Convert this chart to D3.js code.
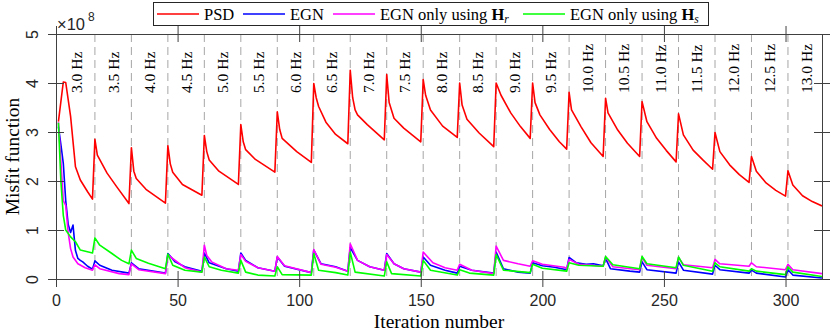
<!DOCTYPE html>
<html>
<head>
<meta charset="utf-8">
<script src="https://cdn.jsdelivr.net/npm/d3@7"></script>
<style>
body{margin:0;background:#fff}
svg{display:block}
.axis .tick text{font-family:"Liberation Sans",Arial,sans-serif;font-size:16px;fill:#262626}
.axis .tick line{stroke:#404040}
.axis path{display:none}
.freq{font-family:"Liberation Serif",serif;font-size:15.5px;fill:#000}
.legend text{font-family:"Liberation Serif",serif;font-size:16.5px;fill:#000}
.title{font-family:"Liberation Serif",serif;font-size:19.5px;fill:#000}
</style>
</head>
<body>
<svg id="misfitGraph"></svg>
<script>
// frequency bands (labels) and the iterations where a new band starts
var freqLabels = ["3.0 Hz","3.5 Hz","4.0 Hz","4.5 Hz","5.0 Hz","5.5 Hz","6.0 Hz","6.5 Hz","7.0 Hz","7.5 Hz",
    "8.0 Hz","8.5 Hz","9.0 Hz","9.5 Hz","10.0 Hz","10.5 Hz","11.0 Hz","11.5 Hz","12.0 Hz","12.5 Hz","13.0 Hz"]
var bandStarts = [1,16,31,46,61,76,91,106,121,136,151,166,181,196,211,226,241,256,271,286,301]
var lastIter = 316

var xTicks = [0,50,100,150,200,250,300]
var yTicks = [0,1,2,3,4,5]

// misfit values, in units of 1e8, as [iteration, value]
var psdPoints = [[1,3.21],[3,4.02],[4,4.01],[6,3.32],[8,2.29],[10,2.02],[13,1.78],[15,1.63],
    [16,2.85],[17,2.53],[21,2.16],[25,1.88],[30,1.54],
    [31,2.68],[32,2.2],[33,2.05],[37,1.83],[45,1.55],
    [46,2.72],[47,2.35],[48,2.18],[52,1.93],[60,1.71],
    [61,2.93],[62,2.6],[63,2.43],[67,2.2],[75,1.93],
    [76,3.15],[77,2.8],[78,2.64],[82,2.44],[90,2.18],
    [91,3.41],[92,3.05],[93,2.87],[99,2.6],[105,2.38],
    [106,3.99],[107,3.7],[108,3.52],[111,3.2],[115,2.95],[120,2.76],
    [121,4.26],[122,3.7],[123,3.45],[124,3.35],[128,3.15],[135,2.84],
    [136,4.17],[137,3.6],[139,3.28],[143,3.08],[150,2.8],
    [151,4.07],[152,3.75],[154,3.45],[159,3.12],[165,2.89],
    [166,4.0],[167,3.55],[169,3.26],[174,2.98],[180,2.7],
    [181,4.0],[183,3.75],[187,3.39],[191,3.11],[195,2.87],
    [196,4.0],[197,3.6],[199,3.35],[203,3.05],[207,2.8],[210,2.65],
    [211,3.81],[212,3.45],[216,3.1],[220,2.78],[225,2.5],
    [226,3.69],[227,3.39],[231,3.04],[235,2.77],[240,2.5],
    [241,3.62],[243,3.21],[247,2.87],[251,2.62],[255,2.39],
    [256,3.37],[258,2.94],[262,2.63],[266,2.43],[270,2.24],
    [271,2.99],[273,2.6],[277,2.33],[281,2.13],[285,1.97],
    [286,2.5],[288,2.2],[292,1.96],[296,1.81],[300,1.69],
    [301,2.21],[303,1.92],[307,1.7],[311,1.58],[315,1.49]]

var egnPoints = [[1,3.11],[2,2.75],[3,2.36],[4,1.6],[5,1.12],[6,0.95],[7,1.1],[8,0.58],[9,0.42],[10,0.38],[11,0.35],[13,0.26],[15,0.2],
    [16,0.37],[18,0.28],[23,0.18],[30,0.12],
    [31,0.33],[34,0.21],[45,0.12],
    [46,0.52],[49,0.35],[53,0.25],[60,0.16],
    [61,0.53],[63,0.33],[70,0.21],[75,0.16],
    [76,0.53],[78,0.38],[83,0.23],[90,0.16],
    [91,0.45],[94,0.26],[105,0.13],
    [106,0.59],[109,0.31],[115,0.25],[120,0.16],
    [121,0.64],[124,0.38],[129,0.25],[135,0.18],
    [136,0.52],[139,0.31],[143,0.21],[150,0.14],
    [151,0.45],[154,0.28],[160,0.18],[165,0.12],
    [166,0.26],[171,0.18],[180,0.12],
    [181,0.55],[184,0.21],[190,0.14],[195,0.12],
    [196,0.33],[200,0.27],[205,0.24],[210,0.19],
    [211,0.44],[214,0.33],[218,0.3],[221,0.31],[225,0.27],
    [226,0.42],[228,0.21],[236,0.16],[240,0.14],
    [241,0.35],[243,0.19],[255,0.12],
    [256,0.35],[258,0.18],[270,0.1],
    [271,0.28],[273,0.19],[285,0.12],
    [286,0.18],[288,0.12],[300,0.04],
    [301,0.19],[303,0.08],[315,0.02]]

var egnHrPoints = [[1,3.2],[2,2.4],[3,1.6],[4,1.5],[5,0.95],[6,0.62],[7,0.45],[9,0.31],[12,0.23],[15,0.18],
    [16,0.29],[18,0.21],[26,0.11],[30,0.09],
    [31,0.31],[34,0.19],[45,0.11],
    [46,0.49],[53,0.23],[60,0.14],
    [61,0.69],[62,0.48],[64,0.35],[70,0.21],[75,0.18],
    [76,0.5],[78,0.36],[83,0.23],[90,0.16],
    [91,0.46],[94,0.27],[105,0.13],
    [106,0.6],[109,0.3],[115,0.24],[120,0.16],
    [121,0.72],[124,0.38],[129,0.25],[135,0.18],
    [136,0.5],[139,0.31],[143,0.21],[150,0.14],
    [151,0.55],[155,0.33],[160,0.23],[165,0.18],
    [166,0.3],[171,0.18],[180,0.11],
    [181,0.67],[184,0.38],[190,0.31],[195,0.26],
    [196,0.37],[200,0.3],[209,0.24],[210,0.21],
    [211,0.4],[215,0.3],[225,0.26],
    [226,0.45],[229,0.25],[240,0.19],
    [241,0.44],[243,0.28],[255,0.21],
    [256,0.44],[258,0.29],[270,0.23],
    [271,0.4],[273,0.31],[285,0.26],
    [286,0.33],[288,0.25],[300,0.19],
    [301,0.3],[303,0.19],[315,0.11]]

var egnHsPoints = [[1,3.19],[2,2.0],[3,1.3],[4,1.0],[6,0.86],[8,0.76],[10,0.59],[15,0.53],
    [16,0.84],[18,0.69],[23,0.52],[27,0.38],[30,0.31],
    [31,0.59],[33,0.42],[38,0.32],[45,0.21],
    [46,0.51],[48,0.28],[53,0.18],[60,0.14],
    [61,0.45],[63,0.25],[68,0.18],[75,0.12],
    [76,0.38],[78,0.14],[83,0.08],[90,0.06],
    [91,0.25],[93,0.09],[105,0.08],
    [106,0.52],[108,0.18],[115,0.13],[120,0.08],
    [121,0.55],[123,0.14],[135,0.06],
    [136,0.35],[138,0.11],[150,0.06],
    [151,0.38],[154,0.18],[165,0.08],
    [166,0.19],[170,0.12],[180,0.08],
    [181,0.5],[184,0.18],[195,0.13],
    [196,0.3],[200,0.22],[210,0.16],
    [211,0.33],[215,0.28],[225,0.26],
    [226,0.46],[229,0.29],[240,0.21],
    [241,0.46],[243,0.31],[255,0.23],
    [256,0.45],[258,0.28],[270,0.16],
    [271,0.33],[273,0.25],[285,0.16],
    [286,0.21],[288,0.16],[300,0.09],
    [301,0.25],[303,0.14],[315,0.05]]

var seriesNames = ["PSD","EGN","EGN only using ","EGN only using "]
var seriesColors = ["#ff0000","#0000ff","#ff00ff","#00ff00"]

var screen = {width:830,height:332}
var margins = {left:56,right:8,top:34,bottom:53}
var graph = {
    width:screen.width-margins.left-margins.right,
    height:screen.height-margins.top-margins.bottom
}

var svg = d3.select("#misfitGraph")
    .attr("width",screen.width)
    .attr("height",screen.height)

var xScale = d3.scaleLinear()
    .domain([0,315])
    .range([0,graph.width])

var yScale = d3.scaleLinear()
    .domain([0,5])
    .range([graph.height,0])

var target = svg.append("g")
    .attr("transform","translate("+margins.left+","+margins.top+")")

target.append("clipPath")
    .attr("id","plotClip")
    .append("rect")
    .attr("width",graph.width)
    .attr("height",graph.height)

// dashed band separators
target.selectAll(".sep")
    .data(bandStarts.slice(1))
    .enter()
    .append("line")
    .attr("class","sep")
    .attr("x1",function(d){return xScale(d)})
    .attr("x2",function(d){return xScale(d)})
    .attr("y1",0)
    .attr("y2",graph.height)
    .attr("stroke","#a6a6a6")
    .attr("stroke-width",1)
    .attr("stroke-dasharray","8,5")

var line = d3.line()
    .x(function(d){return xScale(d[0])})
    .y(function(d){return yScale(d[1])})

var allSeries = [psdPoints,egnPoints,egnHrPoints,egnHsPoints]
target.append("g")
    .attr("clip-path","url(#plotClip)")
    .selectAll("path")
    .data(allSeries)
    .enter()
    .append("path")
    .attr("d",line)
    .attr("fill","none")
    .attr("stroke",function(d,i){return seriesColors[i]})
    .attr("stroke-width",1.6)
    .attr("stroke-linejoin","round")

// frame
target.append("rect")
    .attr("x",0.5)
    .attr("y",0.5)
    .attr("width",graph.width)
    .attr("height",graph.height)
    .attr("fill","none")
    .attr("stroke","#404040")
    .attr("stroke-width",1)

// axes, ticks crossing the frame on all four sides
var xAxis = target.append("g")
    .attr("class","axis")
    .attr("transform","translate(0,"+graph.height+")")
    .call(d3.axisBottom(xScale).tickValues(xTicks).tickSize(8).tickSizeOuter(0).tickPadding(8))
xAxis.selectAll(".tick line").attr("y1",-8)

var xAxisTop = target.append("g")
    .attr("class","axis")
    .call(d3.axisTop(xScale).tickValues(xTicks).tickSize(8).tickSizeOuter(0).tickFormat(""))
xAxisTop.selectAll(".tick line").attr("y1",8)

var yAxis = target.append("g")
    .attr("class","axis")
    .call(d3.axisLeft(yScale).tickValues(yTicks).tickSize(8).tickSizeOuter(0).tickFormat(d3.format("d")))
yAxis.selectAll(".tick line").attr("x1",8)
yAxis.selectAll(".tick text")
    .attr("x",0)
    .attr("dy",0)
    .attr("text-anchor","middle")
    .attr("transform","translate(-18,0) rotate(-90)")

var yAxisRight = target.append("g")
    .attr("class","axis")
    .attr("transform","translate("+graph.width+",0)")
    .call(d3.axisRight(yScale).tickValues(yTicks).tickSize(8).tickSizeOuter(0).tickFormat(""))
yAxisRight.selectAll(".tick line").attr("x1",-8)

// exponent label
var expo = svg.append("text")
    .attr("x",margins.left+1)
    .attr("y",30)
    .attr("font-family","Liberation Sans, Arial, sans-serif")
    .attr("font-size",16.5)
    .attr("fill","#262626")
expo.append("tspan").text("\u00d710")
expo.append("tspan").attr("dx",3).attr("dy",-9).attr("font-size",12).text("8")

// band labels
target.selectAll(".freq")
    .data(freqLabels)
    .enter()
    .append("text")
    .attr("class","freq")
    .attr("transform",function(d,i){
        var end = i<bandStarts.length-1 ? bandStarts[i+1] : lastIter
        var mid = (bandStarts[i]+end)/2
        return "translate("+xScale(mid)+",59) rotate(-90)"
    })
    .attr("dy","0.35em")
    .attr("text-anchor","start")
    .text(function(d){return d})

// legend
var legend = svg.append("g").attr("class","legend")
legend.append("rect")
    .attr("x",153.5)
    .attr("y",2.5)
    .attr("width",555)
    .attr("height",23)
    .attr("fill","#fff")
    .attr("stroke","#262626")
    .attr("stroke-width",1)

var legendX = [157,243,333,523]
var items = legend.selectAll(".item")
    .data(seriesNames)
    .enter()
    .append("g")
    .attr("class","item")
    .attr("transform",function(d,i){return "translate("+legendX[i]+",14)"})
items.append("line")
    .attr("x1",0)
    .attr("x2",42)
    .attr("stroke",function(d,i){return seriesColors[i]})
    .attr("stroke-width",1.6)
var labelText = items.append("text")
    .attr("x",47)
    .attr("y",5.5)
    .text(function(d){return d})
labelText.filter(function(d,i){return i>=2})
    .append("tspan")
    .attr("font-weight","bold")
    .text("H")
labelText.filter(function(d,i){return i>=2})
    .append("tspan")
    .attr("font-style","italic")
    .attr("font-size",11.5)
    .attr("dy",3)
    .text(function(d,i){return i==0 ? "r" : "s"})

// axis titles
svg.append("text")
    .attr("class","title")
    .attr("text-anchor","middle")
    .attr("x",margins.left+graph.width/2)
    .attr("y",327.5)
    .text("Iteration number")

svg.append("text")
    .attr("class","title")
    .attr("text-anchor","middle")
    .attr("transform","translate(19,"+(margins.top+graph.height/2)+") rotate(-90)")
    .text("Misfit function")
</script>
</body>
</html>
